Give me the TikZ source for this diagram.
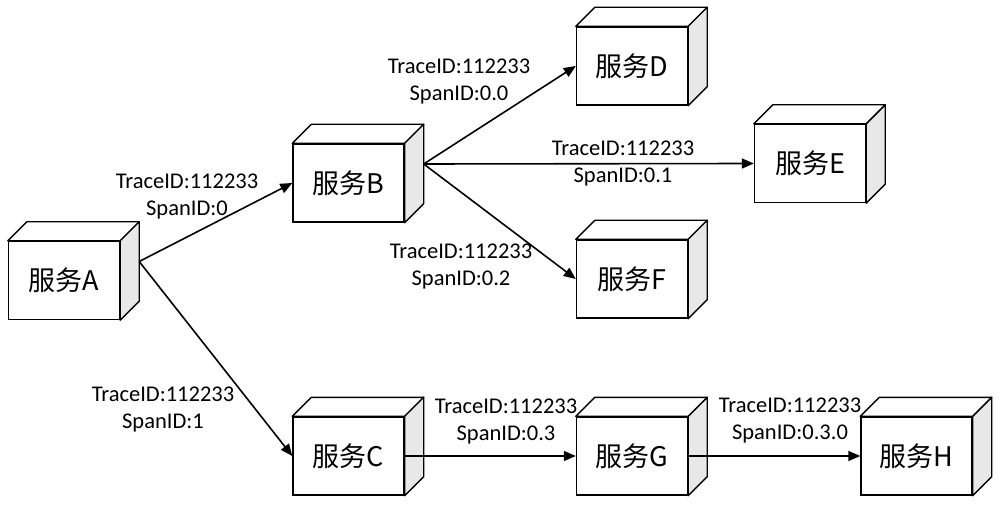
\documentclass[tikz,border=0pt]{standalone}
\usepackage{fontspec}
\setmainfont{Carlito}
\newfontfamily\cjk{Noto Sans CJK SC}
\usetikzlibrary{arrows.meta}
\tikzset{
  box/.style={draw, line width=1.4pt, fill=white, minimum width=111pt, minimum height=78pt, inner sep=0pt, font=\cjk\fontsize{27}{30}\selectfont},
  lbl/.style={align=center, inner sep=0pt, font=\fontsize{22.5}{27}\selectfont},
  conn/.style={line width=1.6pt, -{Triangle[length=12pt,width=10pt]}},
  sideface/.style={draw, line width=1.4pt, fill=gray!18, line join=round},
  topface/.style={draw, line width=1.4pt, fill=white, line join=round}
}
\begin{document}
\begin{tikzpicture}[x=1pt,y=1pt]
\useasboundingbox (0,0) rectangle (1000,506);
\fill[white] (0,0) rectangle (1000,506);
\node[box] (A) at (64,225.5) {服务A};
\node[box] (B) at (348.5,323) {服务B};
\node[box] (D) at (632,440) {服务D};
\node[box] (E) at (810,342.5) {服务E};
\node[box] (F) at (632,227) {服务F};
\node[box] (C) at (348.5,50) {服务C};
\node[box] (G) at (632,50) {服务G};
\node[box] (H) at (916.5,50) {服务H};
\foreach \n in {A,B,C,D,E,F,G,H}{
  \draw[topface] (\n.north west) -- ++(19,19) -- ([shift={(19,19)}]\n.north east) -- (\n.north east) -- cycle;
  \draw[sideface] (\n.north east) -- ++(19,19) -- ([shift={(19,19)}]\n.south east) -- (\n.south east) -- cycle;
}
\coordinate (Aout) at ([shift={(19,19)}]A.east);
\coordinate (Bout) at ([shift={(19,19)}]B.east);
\draw[conn] (Aout) -- (B.west);
\draw[conn] (Aout) -- (C.west);
\draw[conn] (Bout) -- (D.west);
\draw[conn] (Bout) -- (E.west);
\draw[conn] (Bout) -- (F.west);
\draw[conn] (C.east) -- (G.west);
\draw[conn] (G.east) -- (H.west);
\node[lbl] (lAB) at (187,309.5) {TraceID:112233\\SpanID:0};
\node[lbl] (lAC) at (163,96) {TraceID:112233\\SpanID:1};
\node[lbl] (lBD) at (459,424.5) {TraceID:112233\\SpanID:0.0};
\node[lbl] (lBE) at (623,342) {TraceID:112233\\SpanID:0.1};
\node[lbl] (lBF) at (461,239) {TraceID:112233\\SpanID:0.2};
\node[lbl] (lCG) at (506,84.5) {TraceID:112233\\SpanID:0.3};
\node[lbl] (lGH) at (790,85.5) {TraceID:112233\\SpanID:0.3.0};
\end{tikzpicture}
\end{document}
